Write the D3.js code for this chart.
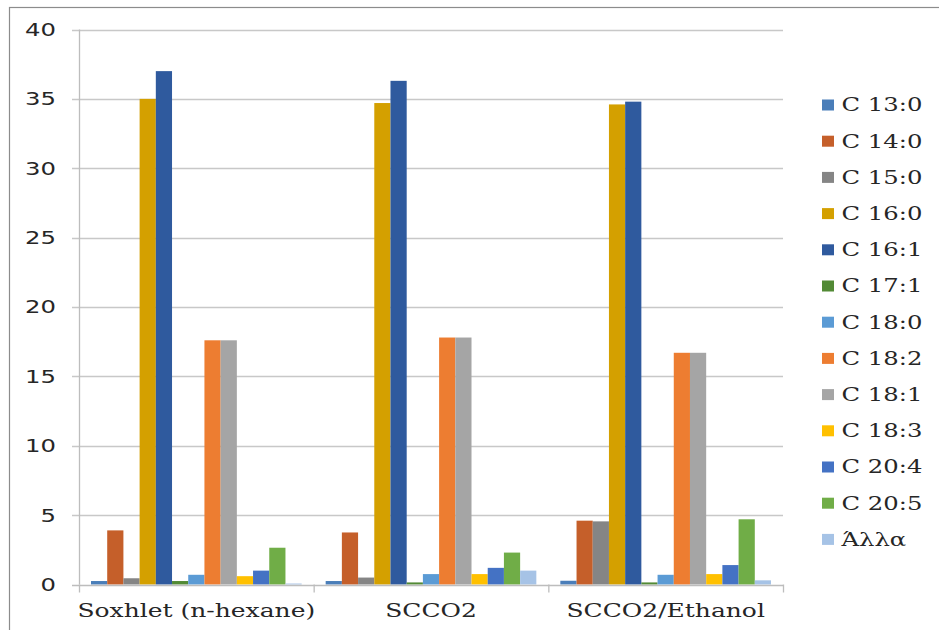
<!DOCTYPE html>
<html>
<head>
<meta charset="utf-8">
<script src="https://cdn.jsdelivr.net/npm/d3@7"></script>
<style>
  body { margin: 0; background: #fff; }
  svg { display: block; }
</style>
</head>
<body>
<svg id="chart" width="939" height="630"></svg>
<script>
// Extraction methods (x categories)
const categories = ["Soxhlet (n-hexane)", "SCCO2", "SCCO2/Ethanol"];

// Fatty acids (series)
const seriesNames = ["C 13:0", "C 14:0", "C 15:0", "C 16:0", "C 16:1", "C 17:1",
  "C 18:0", "C 18:2", "C 18:1", "C 18:3", "C 20:4", "C 20:5", "Άλλα"];

const seriesColors = ["#4a7eb9", "#c55f2a", "#858585", "#d4a000", "#2f5a9e", "#528a35",
  "#5b9bd5", "#ed7d31", "#a5a5a5", "#ffc000", "#4472c4", "#70ad47", "#a6c3e6"];

// Composition (%) per method, in series order
const soxhletValues      = [0.25, 3.9, 0.45, 35.0, 37.0, 0.25, 0.7, 17.6, 17.6, 0.6, 1.0, 2.65, 0.07];
const scco2Values        = [0.25, 3.75, 0.5, 34.7, 36.3, 0.15, 0.75, 17.8, 17.8, 0.75, 1.2, 2.3, 1.0];
const scco2EthanolValues = [0.27, 4.6, 4.55, 34.6, 34.8, 0.15, 0.7, 16.7, 16.7, 0.75, 1.4, 4.7, 0.3];

const yTicks = [0, 5, 10, 15, 20, 25, 30, 35, 40];

const valuesByCategory = [soxhletValues, scco2Values, scco2EthanolValues];
const rows = categories.map((c, i) => ({
  category: c,
  bars: seriesNames.map((s, j) => ({ series: s, value: valuesByCategory[i][j], color: seriesColors[j] }))
}));

const svg = d3.select("#chart");
const stretch = 1.35; // wide lettering used throughout the chart

const plot = { left: 79, right: 783, top: 29.5, bottom: 584.5 };

const x0 = d3.scaleBand().domain(categories).range([plot.left, plot.right]).padding(0);
const groupGap = 12;
const x1 = d3.scaleBand().domain(seriesNames)
  .range([groupGap, x0.bandwidth() - groupGap]).padding(0);
const y = d3.scaleLinear().domain([0, 40]).range([plot.bottom, plot.top]);

// outer frame
svg.append("rect")
  .attr("x", 9.5).attr("y", 7.5).attr("width", 1200).attr("height", 1200)
  .attr("fill", "none").attr("stroke", "#8c8c8c").attr("stroke-width", 1.2);

// horizontal gridlines
svg.append("g").selectAll("line").data(yTicks.filter(t => t > 0)).join("line")
  .attr("x1", plot.left - 7).attr("x2", plot.right)
  .attr("y1", d => Math.round(y(d)) + 0.5).attr("y2", d => Math.round(y(d)) + 0.5)
  .attr("stroke", "#c8c8c8").attr("stroke-width", 1.3);

// y axis line
svg.append("line")
  .attr("x1", plot.left + 0.5).attr("x2", plot.left + 0.5)
  .attr("y1", y(40)).attr("y2", y(0))
  .attr("stroke", "#bdbdbd").attr("stroke-width", 1.3);

// y tick labels
svg.append("g").selectAll("text").data(yTicks).join("text")
  .attr("transform", d => `translate(56,${y(d)}) scale(${stretch},1)`)
  .attr("text-anchor", "end").attr("dy", "0.36em")
  .attr("font-family", "DejaVu Sans, sans-serif").attr("font-size", 18)
  .attr("fill", "#262626")
  .text(d => d);

// bars
const groups = svg.append("g").selectAll("g").data(rows).join("g")
  .attr("transform", d => `translate(${x0(d.category)},0)`);
groups.selectAll("rect").data(d => d.bars).join("rect")
  .attr("x", d => x1(d.series))
  .attr("width", x1.bandwidth())
  .attr("y", d => y(d.value))
  .attr("height", d => y(0) - y(d.value))
  .attr("fill", d => d.color);

// x axis line and category separators
svg.append("line")
  .attr("x1", plot.left - 7).attr("x2", plot.right)
  .attr("y1", Math.round(y(0)) + 0.5).attr("y2", Math.round(y(0)) + 0.5)
  .attr("stroke", "#bdbdbd").attr("stroke-width", 1.3);
const boundaries = categories.map(c => x0(c)).concat([x0(categories[categories.length - 1]) + x0.bandwidth()]);
svg.append("g").selectAll("line").data(boundaries).join("line")
  .attr("x1", d => d + 0.5).attr("x2", d => d + 0.5)
  .attr("y1", y(0)).attr("y2", y(0) + 8)
  .attr("stroke", "#bdbdbd").attr("stroke-width", 1.3);

// category labels
svg.append("g").selectAll("text").data(categories).join("text")
  .attr("transform", d => `translate(${x0(d) + x0.bandwidth() / 2},617) scale(${stretch},1)`)
  .attr("text-anchor", "middle")
  .attr("font-family", "DejaVu Serif, serif").attr("font-size", 18.5)
  .attr("fill", "#262626")
  .text(d => d);

// legend
const legend = svg.append("g").selectAll("g").data(seriesNames).join("g")
  .attr("transform", (d, i) => `translate(822,${105 + i * 36.2})`);
legend.append("rect")
  .attr("x", 0).attr("y", -5.5).attr("width", 12).attr("height", 11)
  .attr("fill", (d, i) => seriesColors[i]);
legend.append("text")
  .attr("transform", `translate(19.5,0) scale(${stretch},1)`)
  .attr("dy", "0.36em")
  .attr("font-family", "DejaVu Serif, serif").attr("font-size", 18)
  .attr("fill", "#262626")
  .text(d => d);
</script>
</body>
</html>
